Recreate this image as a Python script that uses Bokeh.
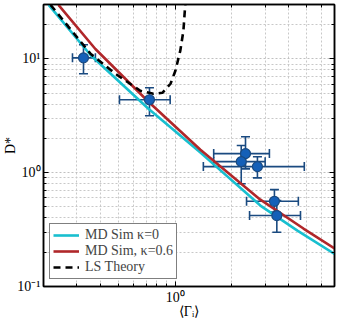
from bokeh.plotting import figure
from bokeh.models import (LogAxis, Whisker, TeeHead, ColumnDataSource, Legend, LegendItem,
                          CustomJSTickFormatter, Range1d, FixedTicker)
from bokeh.embed import file_html
from bokeh.resources import INLINE

# ---- data ----
pt_x = [0.326, 0.73, 2.36, 2.24, 2.73, 3.36, 3.46]
pt_y = [10.2, 4.37, 1.47, 1.25, 1.13, 0.56, 0.42]
pt_xlo = [0.285, 0.506, 1.60, 1.60, 1.41, 2.39, 2.48]
pt_xhi = [0.377, 0.94, 3.16, 3.00, 4.84, 4.50, 4.62]
pt_ylo = [7.4, 3.16, 1.08, 0.80, 0.90, 0.45, 0.30]
pt_yhi = [13.3, 5.57, 2.07, 1.73, 1.38, 0.71, 0.57]

cyan_x = [0.213, 0.355, 0.721, 1.36, 2.83, 4.45, 7.0]
cyan_y = [29.8, 10.8, 3.64, 1.50, 0.514, 0.310, 0.193]

red_x = [0.240, 0.377, 0.721, 1.36, 2.83, 4.79, 7.0]
red_y = [29.8, 12.2, 4.20, 1.59, 0.579, 0.323, 0.216]

ls_x = [0.218, 0.355, 0.482, 0.653, 0.766, 0.855, 0.944, 1.002, 1.064, 1.105, 1.13]
ls_y = [29.8, 11.1, 7.38, 5.24, 4.93, 5.03, 6.04, 7.85, 11.8, 17.6, 29.8]

labels = ["MD Sim \u03ba=0", "MD Sim, \u03ba=0.6", "LS Theory"]
x_title = "\u27e8\u0393\u1d62\u27e9"
y_title = "D*"

x_major = [1]
x_minor = [0.2, 0.3, 0.4, 0.5, 0.6, 0.7, 0.8, 0.9, 2, 3, 4, 5, 6, 7]
y_major = [0.1, 1, 10]
y_minor = [0.2, 0.3, 0.4, 0.5, 0.6, 0.7, 0.8, 0.9, 2, 3, 4, 5, 6, 7, 8, 9, 20, 30]

FONT = "Liberation Serif"
CYAN = "#18bfcf"
RED = "#b0272a"
NAVY = "#1a4a80"
BLUE = "#1560b8"

fmt = CustomJSTickFormatter(code="""
const e = Math.round(Math.log10(tick));
const sup = {'-':'\u207b','0':'\u2070','1':'\u00b9','2':'\u00b2','3':'\u00b3'};
return '10' + String(e).split('').map(c => sup[c]).join('');
""")

p = figure(frame_width=291, frame_height=282, x_axis_type="log", y_axis_type="log",
           x_range=Range1d(0.2, 7), y_range=Range1d(0.1, 30),
           output_backend="svg", toolbar_location=None,
           min_border_left=43, min_border_right=4, min_border_top=4, min_border_bottom=37)

xt = FixedTicker(ticks=x_major, minor_ticks=x_minor)
yt = FixedTicker(ticks=y_major, minor_ticks=y_minor)

def style_axis(ax, labels_on=True):
    ax.major_tick_in = 5
    ax.major_tick_out = 0
    ax.minor_tick_in = 3
    ax.minor_tick_out = 0
    ax.axis_line_color = "black"
    ax.axis_line_width = 1.5
    ax.major_tick_line_width = 1
    ax.minor_tick_line_width = 1
    ax.formatter = fmt
    if labels_on:
        ax.major_label_text_font = FONT
        ax.major_label_text_font_size = "14px"
        ax.major_label_text_color = "black"
        ax.major_label_standoff = 3
        ax.axis_label_text_font = FONT
        ax.axis_label_text_font_size = "14px"
        ax.axis_label_text_font_style = "normal"
        ax.axis_label_text_color = "black"
    else:
        ax.major_label_text_font_size = "1px"
        ax.major_label_text_alpha = 0
        ax.major_label_standoff = 0

p.xaxis[0].ticker = xt
p.yaxis[0].ticker = yt
style_axis(p.xaxis[0])
style_axis(p.yaxis[0])
p.xaxis[0].axis_label = x_title
p.yaxis[0].axis_label = y_title
p.xaxis[0].axis_label_standoff = -4
p.yaxis[0].axis_label_standoff = -4

top = LogAxis(ticker=xt)
right = LogAxis(ticker=yt)
style_axis(top, False)
style_axis(right, False)
p.add_layout(top, "above")
p.add_layout(right, "right")

for g, t in ((p.xgrid[0], xt), (p.ygrid[0], yt)):
    g.ticker = t
    g.grid_line_color = "#c0c0c0"
    g.grid_line_dash = "2 2"
    g.grid_line_width = 1
    g.minor_grid_line_color = "#c8c8c8"
    g.minor_grid_line_dash = "2 2"
    g.minor_grid_line_width = 1

p.outline_line_color = "black"
p.outline_line_width = 1.5

r_cyan = p.line(cyan_x, cyan_y, line_color=CYAN, line_width=2.6)
r_red = p.line(red_x, red_y, line_color=RED, line_width=2.6)
r_ls = p.line(ls_x, ls_y, line_color="black", line_width=2.6, line_dash="7 5")

src = ColumnDataSource(dict(x=pt_x, y=pt_y, xlo=pt_xlo, xhi=pt_xhi, ylo=pt_ylo, yhi=pt_yhi))
p.add_layout(Whisker(source=src, base="x", lower="ylo", upper="yhi", dimension="height",
                     line_color=NAVY, line_width=1.6,
                     upper_head=TeeHead(size=9, line_color=NAVY, line_width=1.6),
                     lower_head=TeeHead(size=9, line_color=NAVY, line_width=1.6)))
p.add_layout(Whisker(source=src, base="y", lower="xlo", upper="xhi", dimension="width",
                     line_color=NAVY, line_width=1.6,
                     upper_head=TeeHead(size=9, line_color=NAVY, line_width=1.6),
                     lower_head=TeeHead(size=9, line_color=NAVY, line_width=1.6)))
p.scatter("x", "y", source=src, size=10, fill_color=BLUE, line_color=NAVY, line_width=1.2)

legend = Legend(items=[LegendItem(label=labels[0], renderers=[r_cyan]),
                       LegendItem(label=labels[1], renderers=[r_red]),
                       LegendItem(label=labels[2], renderers=[r_ls])],
                location=(6, 7), border_line_color="black", border_line_width=1.5,
                background_fill_alpha=1, padding=3, spacing=0, margin=0,
                label_text_font=FONT, label_text_font_size="14px",
                label_height=14, glyph_height=14, glyph_width=26, label_standoff=6)
p.add_layout(legend)

open("out.html", "w").write(file_html(p, INLINE))
